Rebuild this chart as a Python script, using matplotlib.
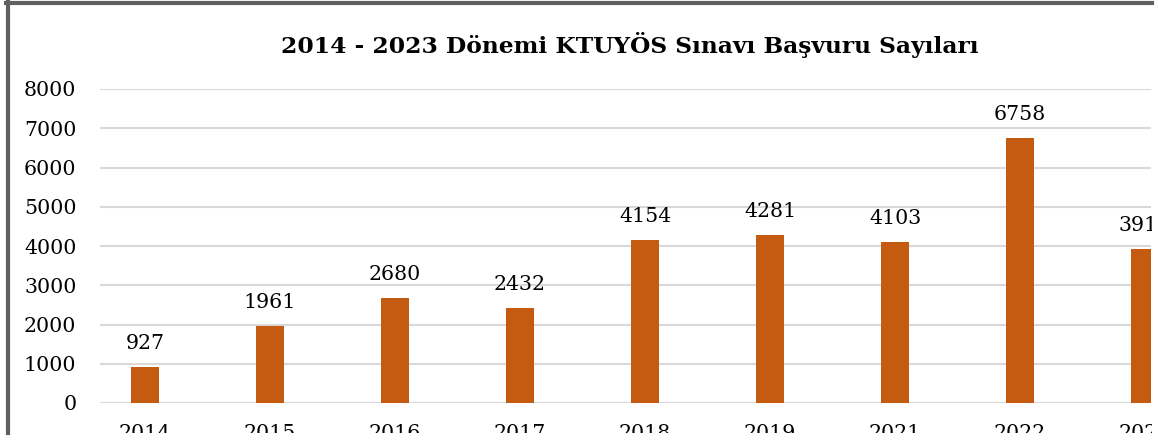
import matplotlib.pyplot as plt
from matplotlib.patches import Rectangle
from matplotlib.lines import Line2D

years = ["2014", "2015", "2016", "2017", "2018", "2019", "2021", "2022", "2023"]
counts = [927, 1961, 2680, 2432, 4154, 4281, 4103, 6758, 3916]

W, H = 1158, 443
fig = plt.figure(figsize=(W / 100, H / 100), dpi=100)

# plot area in pixels: left 100, right 1151, y=0 at 403, y=8000 at 89
ax = fig.add_axes([100 / W, (H - 403) / H, 1051 / W, 314 / H])
x = list(range(len(years)))
bars = ax.bar(x, counts, width=0.224, color="#c55a11", zorder=3)
ax.set_xlim(-0.36, -0.36 + 1051 / 125)
ax.set_ylim(0, 8000)
ax.set_yticks(range(0, 8001, 1000))
ax.set_xticks(x)
ax.set_xticklabels(years)
ax.grid(axis="y", color="#d9d9d9", linewidth=1.5, zorder=0)
for s in ax.spines.values():
    s.set_visible(False)
ax.tick_params(length=0, labelsize=14.8, colors="black")
ax.tick_params(axis="y", pad=17)
ax.tick_params(axis="x", pad=15)
for lab in ax.get_xticklabels() + ax.get_yticklabels():
    lab.set_fontfamily("DejaVu Serif")

ax.bar_label(bars, labels=[str(c) for c in counts], padding=10,
             fontsize=14.8, fontfamily="DejaVu Serif")

fig.text(630 / W, 1 - 45 / H, "2014 - 2023 Dönemi KTUYÖS Sınavı Başvuru Sayıları",
         ha="center", va="center", fontsize=16.8, fontweight="bold",
         fontfamily="DejaVu Serif")

# the chart image is cropped on the right and bottom
fig.patches.append(Rectangle((1152 / W, 0), 6 / W, 1, transform=fig.transFigure,
                             facecolor="white", edgecolor="none", zorder=10))
fig.patches.append(Rectangle((0, 0), 1, 10 / H, transform=fig.transFigure,
                             facecolor="white", edgecolor="none", zorder=10))
# dark frame on top and left
fig.lines.append(Line2D([6 / W, 1152 / W], [1 - 2.5 / H, 1 - 2.5 / H], transform=fig.transFigure,
                        color="#5f5f5f", linewidth=3, zorder=11))
fig.lines.append(Line2D([8 / W, 8 / W], [10 / H, 1], transform=fig.transFigure,
                        color="#5f5f5f", linewidth=3, zorder=11))

fig.savefig("out.png", dpi=100)
